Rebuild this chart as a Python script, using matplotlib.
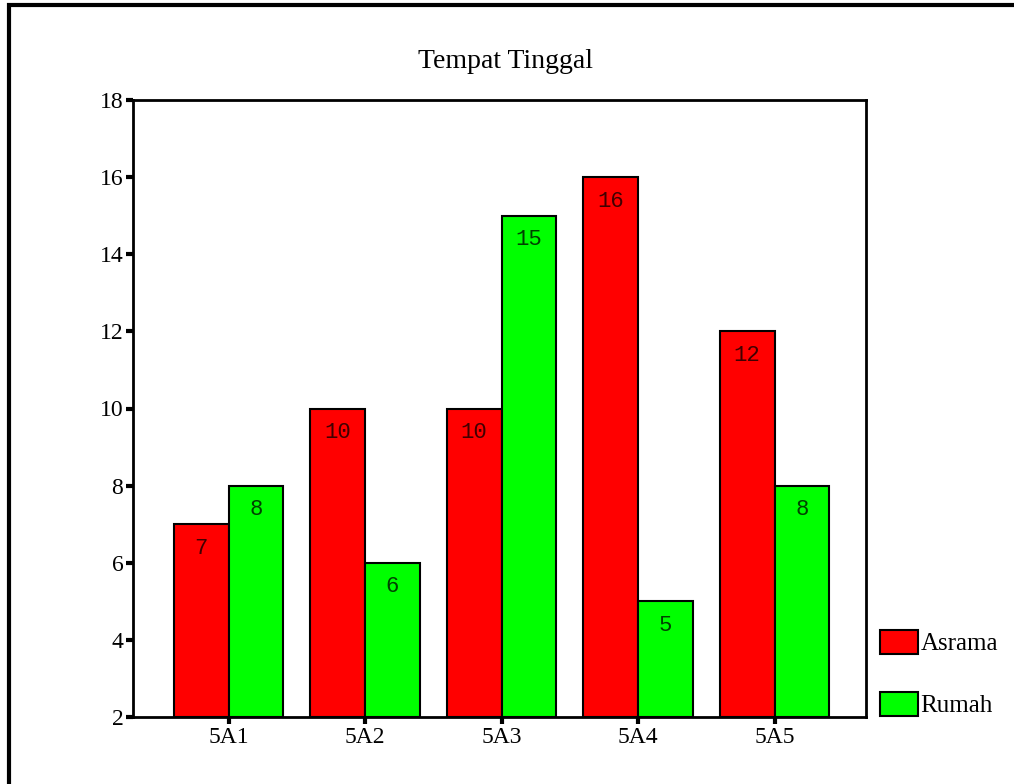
import numpy as np
import matplotlib.pyplot as plt
from matplotlib.patches import Rectangle

kelas = ["5A1", "5A2", "5A3", "5A4", "5A5"]
asrama = [7, 10, 10, 16, 12]
rumah = [8, 6, 15, 5, 8]
yticks = [2, 4, 6, 8, 10, 12, 14, 16, 18]


def main():
	fig = plt.figure(figsize=(10.14, 7.84), dpi=100)
	serif = "Liberation Serif"
	mono = "Liberation Mono"

	# bingkai luar (hanya kiri dan atas terlihat)
	fig.patches.append(Rectangle((9/1014, -0.1), 1.2, 1.1 - 5/784, transform=fig.transFigure,
		fill=False, lw=3, ec="black"))

	ax = fig.add_axes([133/1014, 1-717/784, (866-133)/1014, (717-100)/784])
	x = np.arange(len(kelas))
	w = 0.4
	b1 = ax.bar(x - w/2, np.array(asrama) - 2, w, bottom=2, color="#ff0000", edgecolor="black", lw=1.5)
	b2 = ax.bar(x + w/2, np.array(rumah) - 2, w, bottom=2, color="#00ff00", edgecolor="black", lw=1.5)

	for i in range(len(kelas)):
		ax.text(x[i] - w/2, asrama[i] - 0.62, str(asrama[i]), ha="center", va="center",
			family=mono, fontsize=16, color="#400000")
		ax.text(x[i] + w/2, rumah[i] - 0.62, str(rumah[i]), ha="center", va="center",
			family=mono, fontsize=16, color="#004000")

	ax.set_xlim(-0.70, 4.67)
	ax.set_ylim(2, 18)
	ax.set_yticks(yticks)
	ax.set_xticks(x)
	ax.set_xticklabels(kelas)
	for s in ax.spines.values():
		s.set_linewidth(2)
	ax.tick_params(axis="both", direction="out", length=5, width=3, labelsize=17, pad=2)
	for lab in ax.get_xticklabels() + ax.get_yticklabels():
		lab.set_family(serif)

	fig.text(505/1014, 1-61/784, "Tempat Tinggal", ha="center", va="center", family=serif, fontsize=20)

	leg = fig.legend([b1, b2], ["Asrama", "Rumah"], loc="lower left",
		bbox_to_anchor=(880/1014, 1-717/784), frameon=False, prop={"family": serif, "size": 18},
		handlelength=1.5, handleheight=1.1, handletextpad=0.12, labelspacing=1.45, borderaxespad=0,
		borderpad=0)

	plt.savefig("out.png", dpi=100)
	plt.close()


if __name__ == "__main__":
	main()
